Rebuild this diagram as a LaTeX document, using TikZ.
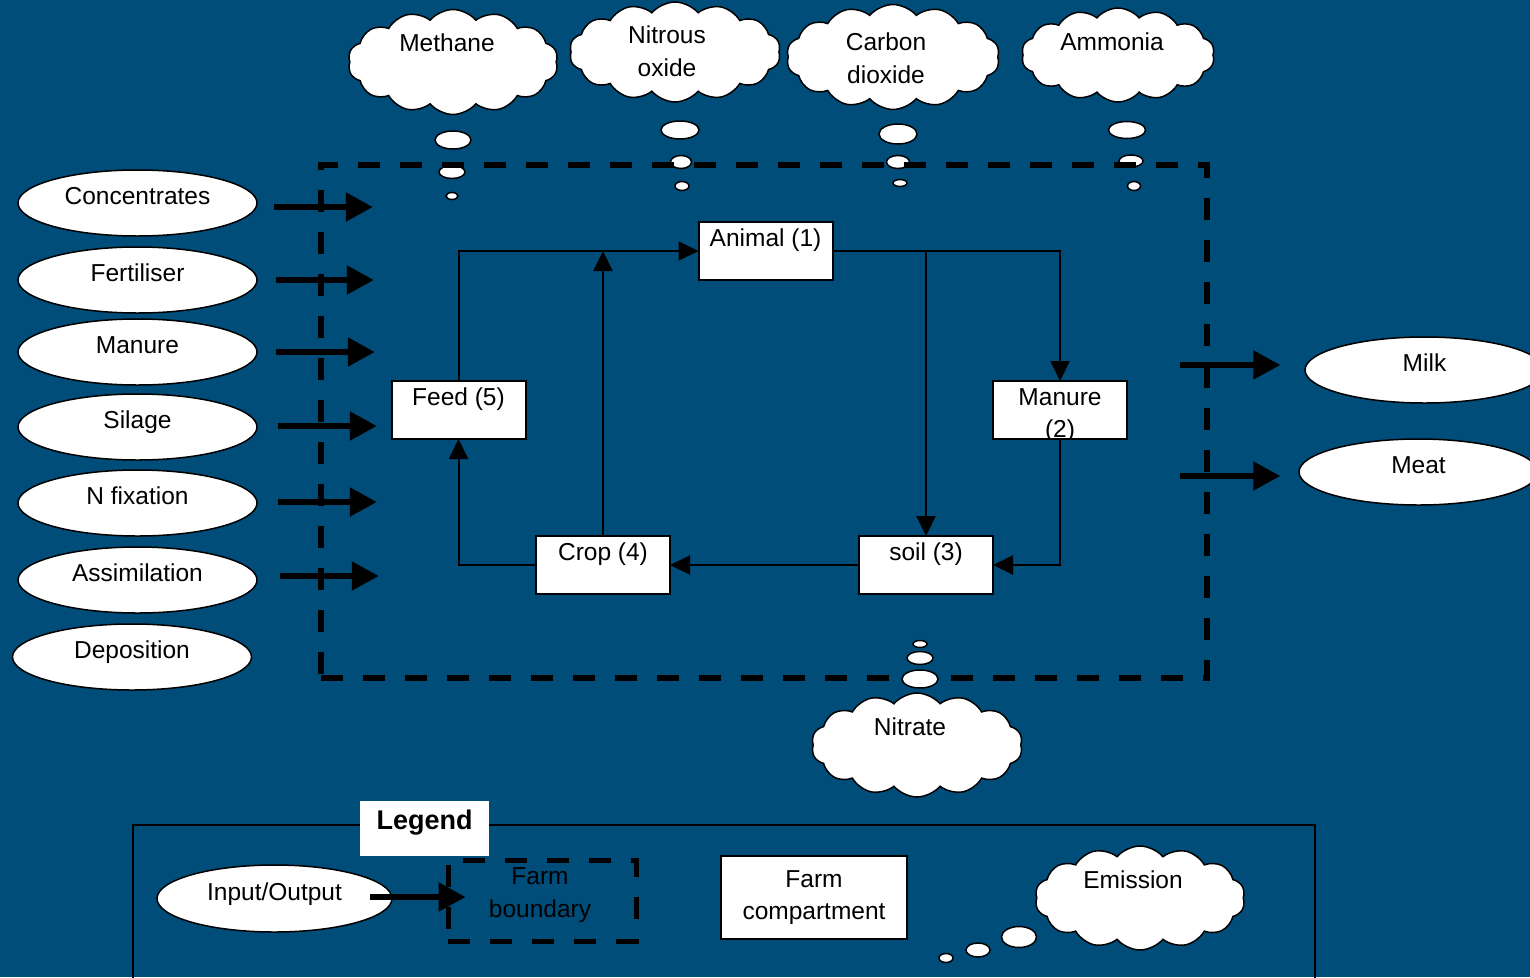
\documentclass[tikz,border=0pt]{standalone}
\usepackage{fontspec}
\setmainfont{Liberation Sans}
\usetikzlibrary{shapes.geometric,shapes.symbols,arrows.meta}
\definecolor{bg}{RGB}{0,77,122}
\begin{document}
\begin{tikzpicture}[x=1pt,y=-1pt,
  every node/.style={font=\fontsize{24.5}{32.5}\selectfont},
  io/.style={ellipse, draw=black, line width=1.5pt, fill=white, minimum width=239pt, minimum height=66pt, inner sep=0pt, text height=17.5pt, text depth=14pt},
  comp/.style={rectangle, draw=black, line width=2pt, fill=white, minimum width=134pt, minimum height=58pt, inner sep=0pt, outer sep=0pt, text height=17.5pt, text depth=26pt},
  legbox/.style={rectangle, draw=black, line width=2pt, fill=white, inner sep=0pt, align=center},
  emis/.style={cloud, cloud puffs=14, cloud puff arc=100, cloud ignores aspect, draw=black, line width=1.5pt, fill=white, inner sep=0pt},
  bub/.style={ellipse, draw=black, line width=1.5pt, fill=white, inner sep=0pt},
  lbl/.style={inner sep=0pt, align=center},
  flow/.style={draw=black, line width=2pt, -{Triangle[length=20pt,width=19pt]}},
  bigarrow/.style={draw=black, line width=5.5pt, -{Triangle[length=27pt,width=28pt]}},
  boundary/.style={draw=black, line width=6pt, dash pattern=on 22pt off 20pt, rectangle, inner sep=0pt}
]
\useasboundingbox (0,0) rectangle (1530,977);
\fill[bg] (0,0) rectangle (1530,977);

% legend frame
\draw[line width=2pt] (133,990) -- (133,825) -- (1315,825) -- (1315,990);
\node[fill=white, minimum width=129pt, minimum height=55pt, inner sep=0pt, text height=19pt, text depth=16.7pt, font=\fontsize{27}{32}\selectfont\bfseries] (leg) at (424.5,828.5) {Legend};

% emission clouds
\node[emis, minimum width=210pt, minimum height=105pt] (meth) at (453,62) {};
\node[lbl] (methT) at (447,43) {Methane};
\node[emis, minimum width=211pt, minimum height=100pt] (nitro) at (675,52) {};
\node[lbl] (nitroT) at (667,51) {Nitrous\\oxide};
\node[emis, minimum width=213pt, minimum height=105pt] (carb) at (893,57) {};
\node[lbl] (carbT) at (886,58) {Carbon\\dioxide};
\node[emis, minimum width=193pt, minimum height=94pt] (ammo) at (1118,55) {};
\node[lbl] (ammoT) at (1112,42) {Ammonia};
\node[emis, minimum width=211pt, minimum height=104pt] (nitr) at (917,745) {};
\node[lbl] (nitrT) at (910,727) {Nitrate};
\node[emis, minimum width=210pt, minimum height=104pt] (emis) at (1140,898) {};
\node[lbl] (emisT) at (1133,880) {Emission};

% bubbles
\foreach \n/\x/\y/\w/\h in {
  mb1/453/140/36/18, mb2/452/172/26/13, mb3/452/196/12/7,
  nb1/680/130/38/18, nb2/681/162/21/13, nb3/682/186/14/9,
  cb1/898/134/38/20, cb2/898/162/23/13, cb3/900/183/14/7,
  ab1/1127/130/37/17, ab2/1131/161/24/12, ab3/1134/186/13/9,
  tb2/920/658/26/13, tb3/920/644/14/7,
  eb1/1019/937/35/21, eb2/978/950/24/14, eb3/946/958/14/9}
  {\node[bub, minimum width=\w pt, minimum height=\h pt] (\n) at (\x,\y) {};}

% farm boundary
\node[boundary, minimum width=886pt, minimum height=513pt] (farm) at (764,421.5) {};
\node[bub, minimum width=36pt, minimum height=18pt] (tb1) at (920,679) {};

% inputs
\node[io] (conc) at (137.5,203) {Concentrates};
\node[io] (fert) at (137.5,280) {Fertiliser};
\node[io] (manin) at (137.5,352) {Manure};
\node[io] (sil) at (137.5,427) {Silage};
\node[io] (nfix) at (137.5,503) {N fixation};
\node[io] (assim) at (137.5,580) {Assimilation};
\node[io] (dep) at (132,657) {Deposition};

\draw[bigarrow] ([shift={(16,4)}]conc.east) -- ([shift={(115,4)}]conc.east);
\draw[bigarrow] ([shift={(18,0)}]fert.east) -- ([shift={(116,0)}]fert.east);
\draw[bigarrow] ([shift={(18,0)}]manin.east) -- ([shift={(117,0)}]manin.east);
\draw[bigarrow] ([shift={(20,-1)}]sil.east) -- ([shift={(119,-1)}]sil.east);
\draw[bigarrow] ([shift={(20,-1)}]nfix.east) -- ([shift={(119,-1)}]nfix.east);
\draw[bigarrow] ([shift={(22,-4)}]assim.east) -- ([shift={(121,-4)}]assim.east);

% outputs
\node[io] (milk) at (1424.5,370) {Milk};
\node[io] (meat) at (1418.5,472) {Meat};
\draw[bigarrow] ([shift={(-124,-5)}]milk.west) -- ([shift={(-24,-5)}]milk.west);
\draw[bigarrow] ([shift={(-118,4)}]meat.west) -- ([shift={(-18,4)}]meat.west);

% compartments
\node[comp] (animal) at (765.5,251) {Animal (1)};
\node[comp] (feed) at (458.5,410) {Feed (5)};
\node[comp] (crop) at (603,565) {Crop (4)};
\node[comp] (soil) at (926,565) {soil (3)};
\node[comp, draw=none] (manure) at (1060,410) {Manure};
\begin{scope}
  \clip (manure.south west) rectangle (manure.north east);
  \node[lbl] (manure2) at (1060,431) {(2)};
\end{scope}
\draw[line width=2pt] (manure.south west) rectangle (manure.north east);

\draw[flow] (feed.north) |- (animal.west);
\draw[flow] (crop.north) -- (crop.north |- animal.west);
\draw[flow] (crop.west) -| (feed.south);
\draw[flow] (soil.west) -- (crop.east);
\draw[flow] (animal.east) -| (manure.north);
\draw[flow] (soil.north |- animal.east) -- (soil.north);
\draw[flow] (manure.south) |- (soil.east);

% legend contents
\node[io, minimum width=235pt, minimum height=67pt] (ioL) at (274.5,898.5) {Input/Output};
\node[boundary, line width=5pt, minimum width=188pt, minimum height=81pt] (bL) at (542,900.5) {};
\node[lbl, text=black] (bLT) at (540,895) {Farm\\boundary};
\draw[bigarrow] ([shift={(-23,-1.5)}]ioL.east) -- ([shift={(20,-3.5)}]bL.west);
\node[legbox, minimum width=186pt, minimum height=83pt] (compL) at (814,897.5) {Farm\\compartment};
\end{tikzpicture}
\end{document}
